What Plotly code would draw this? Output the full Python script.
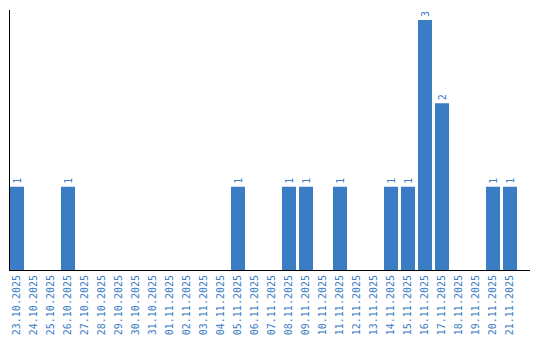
import plotly.graph_objects as go

dates = ["23.10.2025","24.10.2025","25.10.2025","26.10.2025","27.10.2025","28.10.2025",
         "29.10.2025","30.10.2025","31.10.2025","01.11.2025","02.11.2025","03.11.2025",
         "04.11.2025","05.11.2025","06.11.2025","07.11.2025","08.11.2025","09.11.2025",
         "10.11.2025","11.11.2025","12.11.2025","13.11.2025","14.11.2025","15.11.2025",
         "16.11.2025","17.11.2025","18.11.2025","19.11.2025","20.11.2025","21.11.2025"]
counts = [1,0,0,1,0,0,0,0,0,0,0,0,0,1,0,0,1,1,0,1,0,0,1,1,3,2,0,0,1,1]
labels = [str(v) if v else "" for v in counts]

BLUE = "#3a7dc4"
FONT = "DejaVu Sans Mono"

fig = go.Figure(go.Bar(
    x=list(range(len(dates))), y=counts, text=labels,
    textposition="outside", textangle=-90, cliponaxis=False,
    textfont=dict(family=FONT, size=10, color=BLUE),
    marker=dict(color=BLUE, line=dict(width=0)),
))
fig.update_layout(
    width=540, height=340, margin=dict(l=10, r=10, t=10, b=70, autoexpand=False),
    paper_bgcolor="white", plot_bgcolor="white", showlegend=False,
    bargap=0.176,
    font=dict(family=FONT, size=10, color=BLUE),
)
fig.update_xaxes(
    range=[-0.4118, 30.176], tickmode="array", tickvals=list(range(len(dates))),
    ticktext=dates, tickangle=-90, ticks="", showgrid=False, zeroline=False,
    showline=True, linecolor="black", linewidth=1, automargin=False,
    tickfont=dict(family=FONT, size=10, color=BLUE),
)
fig.update_yaxes(
    range=[0, 3.12], showticklabels=False, ticks="", showgrid=False, zeroline=False,
    showline=True, linecolor="black", linewidth=1, automargin=False,
)
fig.write_html("out.html")
